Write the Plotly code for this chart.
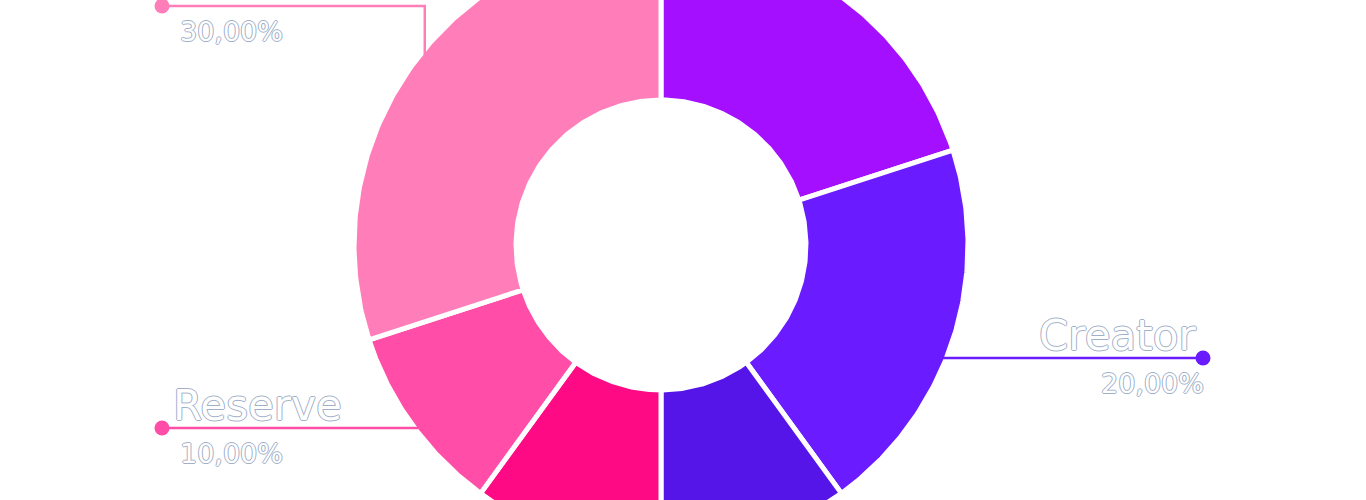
import numpy as np
import plotly.graph_objects as go

# ---- data ----
labels = ["Liquidity", "Creator", "Team", "Marketing", "Reserve", "Community"]
values = [20, 20, 10, 10, 10, 30]
colors = ["#A40FFF", "#6A1BFF", "#5514E8", "#FF0A85", "#FF4DA8", "#FF7EBA"]

# ---- label layout (not data) ----
label_side = ["right", "right", "right", "left", "left", "left"]
label_y = [-40, 358, 560, 560, 428, 6]

W, H = 1366, 500
cx, cy = 661, 245
r_out, r_in = 307, 145
r_lead = 292
dot_x = {"right": 1203, "left": 162}

total = float(sum(values))
pct_text = [("%.2f%%" % (v / total * 100)).replace(".", ",") for v in values]

fig = go.Figure()

OUTLINE = "#9fb0c8"
shadow = ("1px 0 0 {c}, -1px 0 0 {c}, 0 1px 0 {c}, 0 -1px 0 {c}").format(c=OUTLINE)
FONT = "DejaVu Sans, sans-serif"

cum = 0.0
annotations = []
for lab, v, col in zip(labels, values, colors):
    a0 = cum / total * 2 * np.pi
    a1 = (cum + v) / total * 2 * np.pi
    cum += v
    th = np.linspace(a0, a1, 160)
    xo = cx + r_out * np.sin(th)
    yo = cy - r_out * np.cos(th)
    xi = cx + r_in * np.sin(th[::-1])
    yi = cy - r_in * np.cos(th[::-1])
    xs = np.concatenate([xo, xi, xo[:1]])
    ys = np.concatenate([yo, yi, yo[:1]])
    fig.add_trace(go.Scatter(
        x=xs, y=ys, mode="lines", fill="toself", fillcolor=col,
        line=dict(color="white", width=5), hoverinfo="skip", showlegend=False,
    ))

# leader lines & labels (drawn after slices)
cum = 0.0
for lab, v, col, side, ly, pt in zip(labels, values, colors, label_side, label_y, pct_text):
    mid = (cum + v / 2) / total * 2 * np.pi
    cum += v
    px = cx + r_lead * np.sin(mid)
    py = cy - r_lead * np.cos(mid)
    dx = dot_x[side]
    fig.add_trace(go.Scatter(
        x=[px, px, dx], y=[py, ly, ly], mode="lines",
        line=dict(color=col, width=2.5),
        hoverinfo="skip", showlegend=False,
    ))
    fig.add_trace(go.Scatter(
        x=[dx], y=[ly], mode="markers",
        marker=dict(size=15, color=col, opacity=1, line=dict(width=0)),
        hoverinfo="skip", showlegend=False,
    ))
    if side == "right":
        nx, pxx, anch = dx - 5, dx + 3, "right"
    else:
        nx, pxx, anch = dx + 9, dx + 16, "left"
    annotations.append(dict(
        x=nx, y=ly - 23, xref="x", yref="y", text=lab, showarrow=False,
        xanchor=anch, yanchor="middle",
        font=dict(family=FONT, size=42, color="white", shadow=shadow),
    ))
    annotations.append(dict(
        x=pxx, y=ly + 25, xref="x", yref="y", text=pt, showarrow=False,
        xanchor=anch, yanchor="middle",
        font=dict(family=FONT, size=27, color="white", shadow=shadow),
    ))

fig.update_layout(
    width=W, height=H,
    margin=dict(l=0, r=0, t=0, b=0),
    paper_bgcolor="white", plot_bgcolor="white",
    xaxis=dict(range=[0, W], visible=False, fixedrange=True),
    yaxis=dict(range=[H, 0], visible=False, fixedrange=True),
    annotations=annotations,
    showlegend=False,
)

fig.write_html("out.html", config={"displayModeBar": False},
               post_script="document.body.style.margin='0';")
